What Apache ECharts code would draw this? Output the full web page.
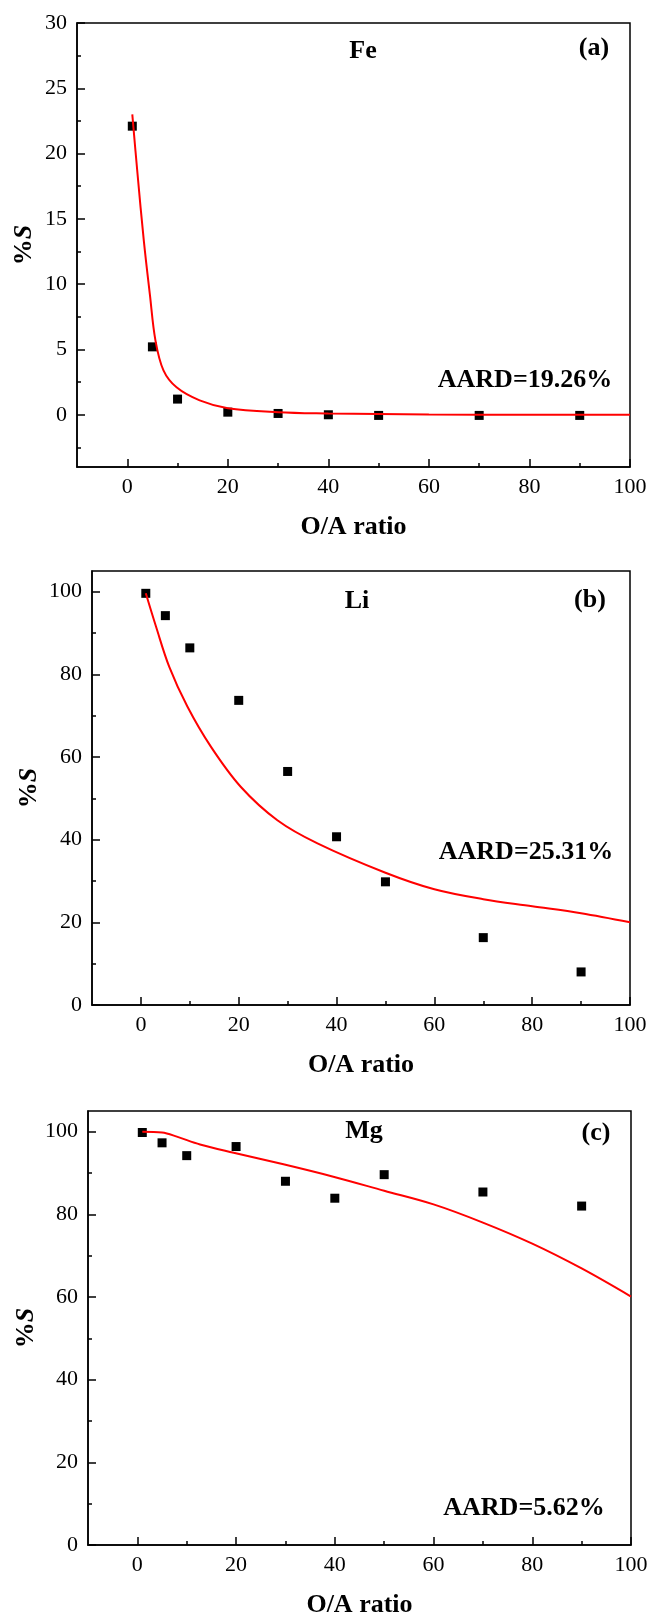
<!DOCTYPE html>
<html>
<head>
<meta charset="utf-8">
<title>%S vs O/A ratio</title>
<style>
  html, body { margin: 0; padding: 0; background: #fff; }
  #chart { width: 651px; height: 1619px; }
</style>
</head>
<body>
<div id="chart"></div>
<script src="https://cdn.jsdelivr.net/npm/echarts@6/dist/echarts.min.js"></script>
<script>
// 实验点的 O/A 比
var oaRatio = [1, 5, 10, 20, 30, 40, 50, 70, 90];

// (a) Fe
var feMeasured = [22.1, 5.2, 1.2, 0.2, 0.1, 0.0, -0.05, -0.05, -0.05];
var feFitX = [1, 2.05, 3.3, 4.5, 5.6, 7.2, 9.8, 14.4, 20, 30, 40, 50, 60, 80, 100];
var feFitY = [23.0, 18.4, 13.3, 9.2, 5.7, 3.4, 2.1, 1.1, 0.5, 0.2, 0.1, 0.05, 0.02, 0, 0];

// (b) Li
var liMeasured = [99.6, 94.2, 86.4, 73.7, 56.5, 40.7, 29.8, 16.3, 8.0];
var liFitX = [1, 3.1, 5.8, 9.5, 14.3, 20.4, 27.9, 36.1, 50, 60, 70, 80, 90, 100];
var liFitY = [99.6, 91.5, 81.8, 72.2, 62.5, 52.8, 44.7, 39.1, 32.0, 28.0, 25.6, 23.9, 22.2, 20.0];

// (c) Mg
var mgMeasured = [99.8, 97.3, 94.2, 96.4, 88.0, 83.9, 89.6, 85.4, 82.0];
var mgFitX = [1, 5, 8, 12.7, 19.5, 29.6, 39.7, 50, 60, 70, 80, 90, 100];
var mgFitY = [100, 99.8, 98.8, 96.9, 94.9, 92.1, 89.1, 85.7, 82.4, 78.0, 72.9, 66.9, 60.1];

// 刻度
var xMajorTicks = [0, 20, 40, 60, 80, 100];
var xMinorTicks = [10, 30, 50, 70, 90];
var feYMajorTicks = [0, 5, 10, 15, 20, 25, 30];
var feYMinorTicks = [-2.5, 2.5, 7.5, 12.5, 17.5, 22.5, 27.5];
var yMajorTicks = [0, 20, 40, 60, 80, 100];
var yMinorTicks = [10, 30, 50, 70, 90];

function zip(xs, ys) {
    return xs.map(function (x, i) { return [x, ys[i]]; });
}

(function() {
    var FONT = '"Liberation Serif", "Times New Roman", serif';
    var BOLD = 'bold 26px "Liberation Serif", "Times New Roman", serif';

    var panels = [
        { grid: { left: 77, right: 21, top: 23, height: 444 }, yMin: -4, yMax: 30,
          yMajor: feYMajorTicks, yMinor: feYMinorTicks, yGap: 40,
          measured: feMeasured, fitX: feFitX, fitY: feFitY,
          texts: [['Fe', 363, 51], ['(a)', 594, 48], ['AARD=19.26%', 525, 380]] },
        { grid: { left: 92, right: 21, top: 571, height: 434 }, yMin: 0, yMax: 105,
          yMajor: yMajorTicks, yMinor: yMinorTicks, yGap: 50,
          measured: liMeasured, fitX: liFitX, fitY: liFitY,
          texts: [['Li', 357, 601], ['(b)', 590, 600], ['AARD=25.31%', 526, 852]] },
        { grid: { left: 88, right: 20, top: 1111, height: 438 }, yMin: 0, yMax: 105,
          yMajor: yMajorTicks, yMinor: yMinorTicks, yGap: 49,
          measured: mgMeasured, fitX: mgFitX, fitY: mgFitY,
          texts: [['Mg', 364, 1131], ['(c)', 596, 1133], ['AARD=5.62%', 524, 1508]] }
    ];

    var tickLine = { color: '#000', width: 1.5 };
    var grids = [], xAxes = [], yAxes = [], series = [], graphics = [];

    panels.forEach(function (p, i) {
        grids.push(Object.assign({ show: true, borderColor: '#000', borderWidth: 1.5 }, p.grid));

        // 主轴: 轴线 + 主刻度 + 标签
        xAxes.push({
            gridIndex: i, type: 'value', position: 'bottom', min: -10, max: 100,
            axisLine: { onZero: false, lineStyle: tickLine },
            axisTick: { inside: true, length: 8, customValues: xMajorTicks, lineStyle: tickLine },
            axisLabel: { customValues: xMajorTicks, margin: 9, color: '#000', fontFamily: FONT, fontSize: 22 },
            splitLine: { show: false },
            name: 'O/A ratio', nameLocation: 'middle', nameGap: 47, nameMoveOverlap: false,
            nameTextStyle: { color: '#000', fontFamily: FONT, fontSize: 26, fontWeight: 'bold' }
        });
        // 副轴: 只画次刻度
        xAxes.push({
            gridIndex: i, type: 'value', position: 'bottom', min: -10, max: 100,
            axisLine: { show: false, onZero: false },
            axisTick: { inside: true, length: 4, customValues: xMinorTicks, lineStyle: tickLine },
            axisLabel: { show: false },
            splitLine: { show: false }
        });

        yAxes.push({
            gridIndex: i, type: 'value', position: 'left', min: p.yMin, max: p.yMax,
            axisLine: { onZero: false, lineStyle: tickLine },
            axisTick: { inside: true, length: 8, customValues: p.yMajor, lineStyle: tickLine },
            axisLabel: { customValues: p.yMajor, margin: 10, color: '#000', fontFamily: FONT, fontSize: 22 },
            splitLine: { show: false },
            name: '{p|%}{s|S}', nameLocation: 'middle', nameGap: p.yGap, nameMoveOverlap: false,
            nameTextStyle: {
                color: '#000', fontFamily: FONT, fontSize: 26, fontWeight: 'bold',
                rich: {
                    p: { color: '#000', fontFamily: FONT, fontSize: 26, fontWeight: 'bold' },
                    s: { color: '#000', fontFamily: FONT, fontSize: 26, fontWeight: 'bold', fontStyle: 'italic' }
                }
            }
        });
        yAxes.push({
            gridIndex: i, type: 'value', position: 'left', min: p.yMin, max: p.yMax,
            axisLine: { show: false, onZero: false },
            axisTick: { inside: true, length: 4, customValues: p.yMinor, lineStyle: tickLine },
            axisLabel: { show: false },
            splitLine: { show: false }
        });

        series.push({
            type: 'scatter', xAxisIndex: 2 * i, yAxisIndex: 2 * i,
            data: zip(oaRatio, p.measured),
            symbol: 'rect', symbolSize: 9,
            itemStyle: { color: '#000', opacity: 1 }
        });
        series.push({
            type: 'line', xAxisIndex: 2 * i, yAxisIndex: 2 * i,
            data: zip(p.fitX, p.fitY),
            symbol: 'none', smooth: 0.35,
            lineStyle: { color: '#ff0000', width: 2 }
        });

        p.texts.forEach(function (t) {
            graphics.push({
                type: 'text', x: t[1], y: t[2],
                style: {
                    text: t[0], font: BOLD, fill: '#000',
                    textAlign: 'center', textVerticalAlign: 'middle',
                    align: 'center', verticalAlign: 'middle'
                }
            });
        });
    });

    // 1.实例化对象
    var myChart = echarts.init(document.getElementById('chart'));
    // 2.指定配置项和数据
    var option = {
        animation: false,
        backgroundColor: '#fff',
        grid: grids,
        xAxis: xAxes,
        yAxis: yAxes,
        series: series,
        graphic: graphics
    };
    // 3.把配置项给实例对象
    myChart.setOption(option);
})();
</script>
</body>
</html>
